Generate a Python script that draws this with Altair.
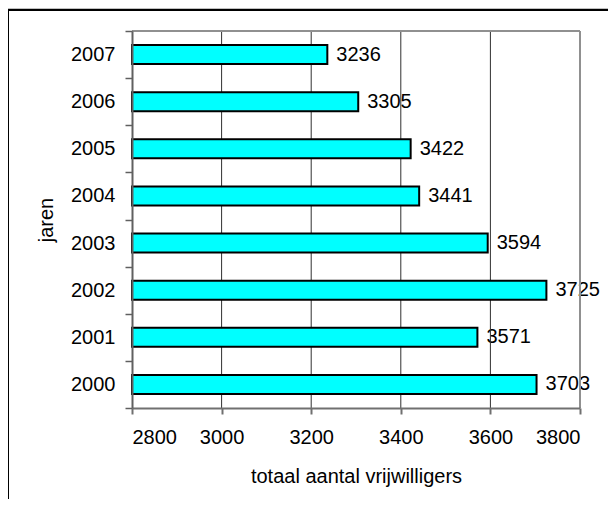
import altair as alt
import pandas as pd

years = ["2007", "2006", "2005", "2004", "2003", "2002", "2001", "2000"]
values = [3236, 3305, 3422, 3441, 3594, 3725, 3571, 3703]
x_ticks = [2800, 3000, 3200, 3400, 3600, 3800]
grid_vals = [3000, 3200, 3400, 3600]
border_val = [3800]
x_min = 2800

df = pd.DataFrame({"jaren": years, "value": values})
FONT = "Liberation Sans"

xscale = alt.Scale(domain=[2800, 3800], nice=False, zero=False)
yscale = alt.Scale(domain=years, paddingInner=0, paddingOuter=0)

xaxis = alt.Axis(values=x_ticks, grid=False, title="totaal aantal vrijwilligers", format="d",
                 labelFont=FONT, labelFontSize=20, labelColor="black",
                 titleFont=FONT, titleFontSize=20, titleFontWeight="normal", titleColor="black",
                 domainColor="#707070", domainWidth=2, tickColor="#707070", tickWidth=2,
                 tickSize=6, labelPadding=13, titlePadding=19, zindex=1)
yaxis = alt.Axis(grid=False, title="jaren", tickBand="extent",
                 labelFont=FONT, labelFontSize=20, labelColor="black",
                 titleFont=FONT, titleFontSize=20, titleFontWeight="normal", titleColor="black",
                 domainColor="#606060", domainWidth=2, tickColor="#606060", tickWidth=1.5,
                 tickSize=7, labelPadding=10, titlePadding=14, zindex=1)

frame = alt.Chart(alt.Data(values=[{}])).mark_rect(
    fill="white", stroke="black", strokeWidth=2
).encode(x=alt.value(-124), x2=alt.value(700), y=alt.value(-21), y2=alt.value(700))

labels = alt.Chart(df).mark_text(
    align="left", baseline="middle", dx=9, font=FONT, fontSize=20, color="black"
).encode(
    x=alt.X("value:Q", scale=xscale, axis=xaxis),
    y=alt.Y("jaren:N", scale=yscale, axis=yaxis, sort=years),
    text=alt.Text("value:Q", format="d"),
)

grid = alt.Chart(pd.DataFrame({"g": grid_vals})).mark_rule(color="#303030", strokeWidth=1).encode(
    x=alt.X("g:Q", scale=xscale), y=alt.value(0), y2=alt.value(377)
)
border_r = alt.Chart(pd.DataFrame({"g": border_val})).mark_rule(color="#909090", strokeWidth=2).encode(
    x=alt.X("g:Q", scale=xscale), y=alt.value(0), y2=alt.value(377)
)
border_t = alt.Chart(alt.Data(values=[{}])).mark_rule(color="#909090", strokeWidth=2).encode(
    x=alt.value(0), x2=alt.value(448), y=alt.value(0)
)

bars = alt.Chart(df).mark_bar(
    color="#00FFFF", stroke="black", strokeWidth=2, size=19
).encode(
    x=alt.X("value:Q", scale=xscale),
    x2=alt.datum(x_min),
    y=alt.Y("jaren:N", scale=yscale, sort=years),
)

chart = alt.layer(frame, labels, grid, border_r, border_t, bars).properties(
    width=448, height=377,
    autosize=alt.AutoSizeParams(type="none"),
    padding={"left": 124, "top": 23, "right": 28, "bottom": 91},
    background="#c0c0c0",
).configure_view(stroke=None)

chart.save("out.html", embed_options={"renderer": "svg", "actions": False})
